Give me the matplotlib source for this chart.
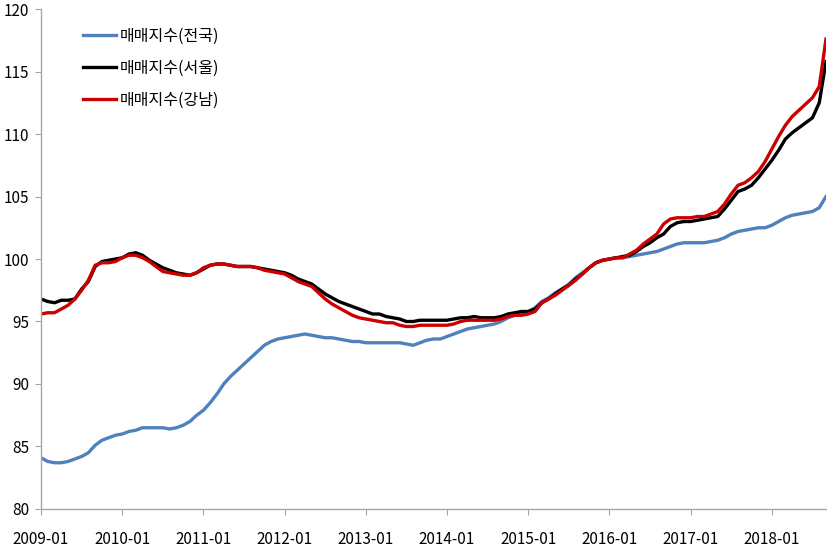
"""Housing sale price index: national vs Seoul vs Gangnam, 2009-01 to 2018-09."""

import matplotlib

matplotlib.use("Agg")
import matplotlib.pyplot as plt
import numpy as np

plt.rcParams["font.family"] = ["Noto Sans CJK KR", "DejaVu Sans"]

# Monthly index values, 2009-01 .. 2018-09 (117 months)
national = [
    84.1, 83.8, 83.7, 83.7, 83.8, 84.0, 84.2, 84.5, 85.1, 85.5, 85.7, 85.9,
    86.0, 86.2, 86.3, 86.5, 86.5, 86.5, 86.5, 86.4, 86.5, 86.7, 87.0, 87.5,
    87.9, 88.5, 89.2, 90.0, 90.6, 91.1, 91.6, 92.1, 92.6, 93.1, 93.4, 93.6,
    93.7, 93.8, 93.9, 94.0, 93.9, 93.8, 93.7, 93.7, 93.6, 93.5, 93.4, 93.4,
    93.3, 93.3, 93.3, 93.3, 93.3, 93.3, 93.2, 93.1, 93.3, 93.5, 93.6, 93.6,
    93.8, 94.0, 94.2, 94.4, 94.5, 94.6, 94.7, 94.8, 95.0, 95.3, 95.5, 95.7,
    95.8, 96.1, 96.6, 96.9, 97.3, 97.6, 98.0, 98.5, 98.9, 99.3, 99.7, 99.9,
    100.0, 100.1, 100.1, 100.2, 100.3, 100.4, 100.5, 100.6, 100.8, 101.0, 101.2, 101.3,
    101.3, 101.3, 101.3, 101.4, 101.5, 101.7, 102.0, 102.2, 102.3, 102.4, 102.5, 102.5,
    102.7, 103.0, 103.3, 103.5, 103.6, 103.7, 103.8, 104.1, 105.0,
]
seoul = [
    96.8, 96.6, 96.5, 96.7, 96.7, 96.8, 97.6, 98.2, 99.4, 99.8, 99.9, 100.0,
    100.1, 100.4, 100.5, 100.3, 99.9, 99.6, 99.3, 99.1, 98.9, 98.8, 98.7, 98.9,
    99.2, 99.5, 99.6, 99.6, 99.5, 99.4, 99.4, 99.4, 99.3, 99.2, 99.1, 99.0,
    98.9, 98.7, 98.4, 98.2, 98.0, 97.6, 97.2, 96.9, 96.6, 96.4, 96.2, 96.0,
    95.8, 95.6, 95.6, 95.4, 95.3, 95.2, 95.0, 95.0, 95.1, 95.1, 95.1, 95.1,
    95.1, 95.2, 95.3, 95.3, 95.4, 95.3, 95.3, 95.3, 95.4, 95.6, 95.7, 95.8,
    95.8, 96.0, 96.5, 96.8, 97.2, 97.6, 97.9, 98.4, 98.8, 99.3, 99.7, 99.9,
    100.0, 100.1, 100.2, 100.3, 100.6, 101.0, 101.3, 101.7, 102.0, 102.6, 102.9, 103.0,
    103.0, 103.1, 103.2, 103.3, 103.4, 104.0, 104.7, 105.4, 105.6, 105.9, 106.5, 107.2,
    107.9, 108.7, 109.6, 110.1, 110.5, 110.9, 111.3, 112.5, 115.8,
]
gangnam = [
    95.6, 95.7, 95.7, 96.0, 96.3, 96.8, 97.5, 98.3, 99.5, 99.7, 99.7, 99.8,
    100.1, 100.3, 100.3, 100.1, 99.8, 99.4, 99.0, 98.9, 98.8, 98.7, 98.7, 98.9,
    99.3, 99.5, 99.6, 99.6, 99.5, 99.4, 99.4, 99.4, 99.3, 99.1, 99.0, 98.9,
    98.8, 98.5, 98.2, 98.0, 97.8, 97.3, 96.8, 96.4, 96.1, 95.8, 95.5, 95.3,
    95.2, 95.1, 95.0, 94.9, 94.9, 94.7, 94.6, 94.6, 94.7, 94.7, 94.7, 94.7,
    94.7, 94.8, 95.0, 95.1, 95.1, 95.1, 95.1, 95.1, 95.2, 95.4, 95.5, 95.5,
    95.6, 95.8, 96.5, 96.8, 97.1, 97.5, 97.9, 98.3, 98.8, 99.3, 99.7, 99.9,
    100.0, 100.1, 100.1, 100.4, 100.7, 101.2, 101.6, 102.0, 102.8, 103.2, 103.3, 103.3,
    103.3, 103.4, 103.4, 103.6, 103.8, 104.4, 105.2, 105.9, 106.1, 106.5, 107.0, 107.8,
    108.8, 109.8, 110.7, 111.4, 111.9, 112.4, 112.9, 113.8, 117.6,
]
series_labels = ["매매지수(전국)", "매매지수(서울)", "매매지수(강남)"]
year_labels = [f"{y}-01" for y in range(2009, 2019)]


def main() -> None:
    fig = plt.figure(figsize=(8.27, 5.47), dpi=100)
    ax = fig.add_axes([0.0496, 0.0695, 0.9492, 0.914])

    months = np.arange(len(national))
    ax.plot(months, national, color="#4F81BD", lw=2.4, label=series_labels[0])
    ax.plot(months, seoul, color="#000000", lw=2.4, label=series_labels[1])
    ax.plot(months, gangnam, color="#CC0000", lw=2.4, label=series_labels[2])

    ax.set_xlim(0, len(national) - 1)
    ax.set_ylim(80, 120)
    ax.set_yticks(np.arange(80, 121, 5))
    ax.set_xticks(np.arange(0, 12 * len(year_labels), 12))
    ax.set_xticklabels(year_labels)

    for side in ("top", "right"):
        ax.spines[side].set_visible(False)
    for side in ("left", "bottom"):
        ax.spines[side].set_color("#a6a6a6")
        ax.spines[side].set_linewidth(1.0)
    ax.tick_params(axis="both", colors="#a6a6a6", labelcolor="#000000", labelsize=11, length=4.5)
    ax.tick_params(axis="x", pad=11)
    ax.tick_params(axis="y", pad=4)

    ax.legend(
        loc="upper left",
        bbox_to_anchor=(0.035, 0.992),
        frameon=False,
        fontsize=11.5,
        handlelength=2.1,
        handletextpad=0.2,
        labelspacing=0.95,
    )

    fig.savefig("out.png", dpi=100)


if __name__ == "__main__":
    main()
